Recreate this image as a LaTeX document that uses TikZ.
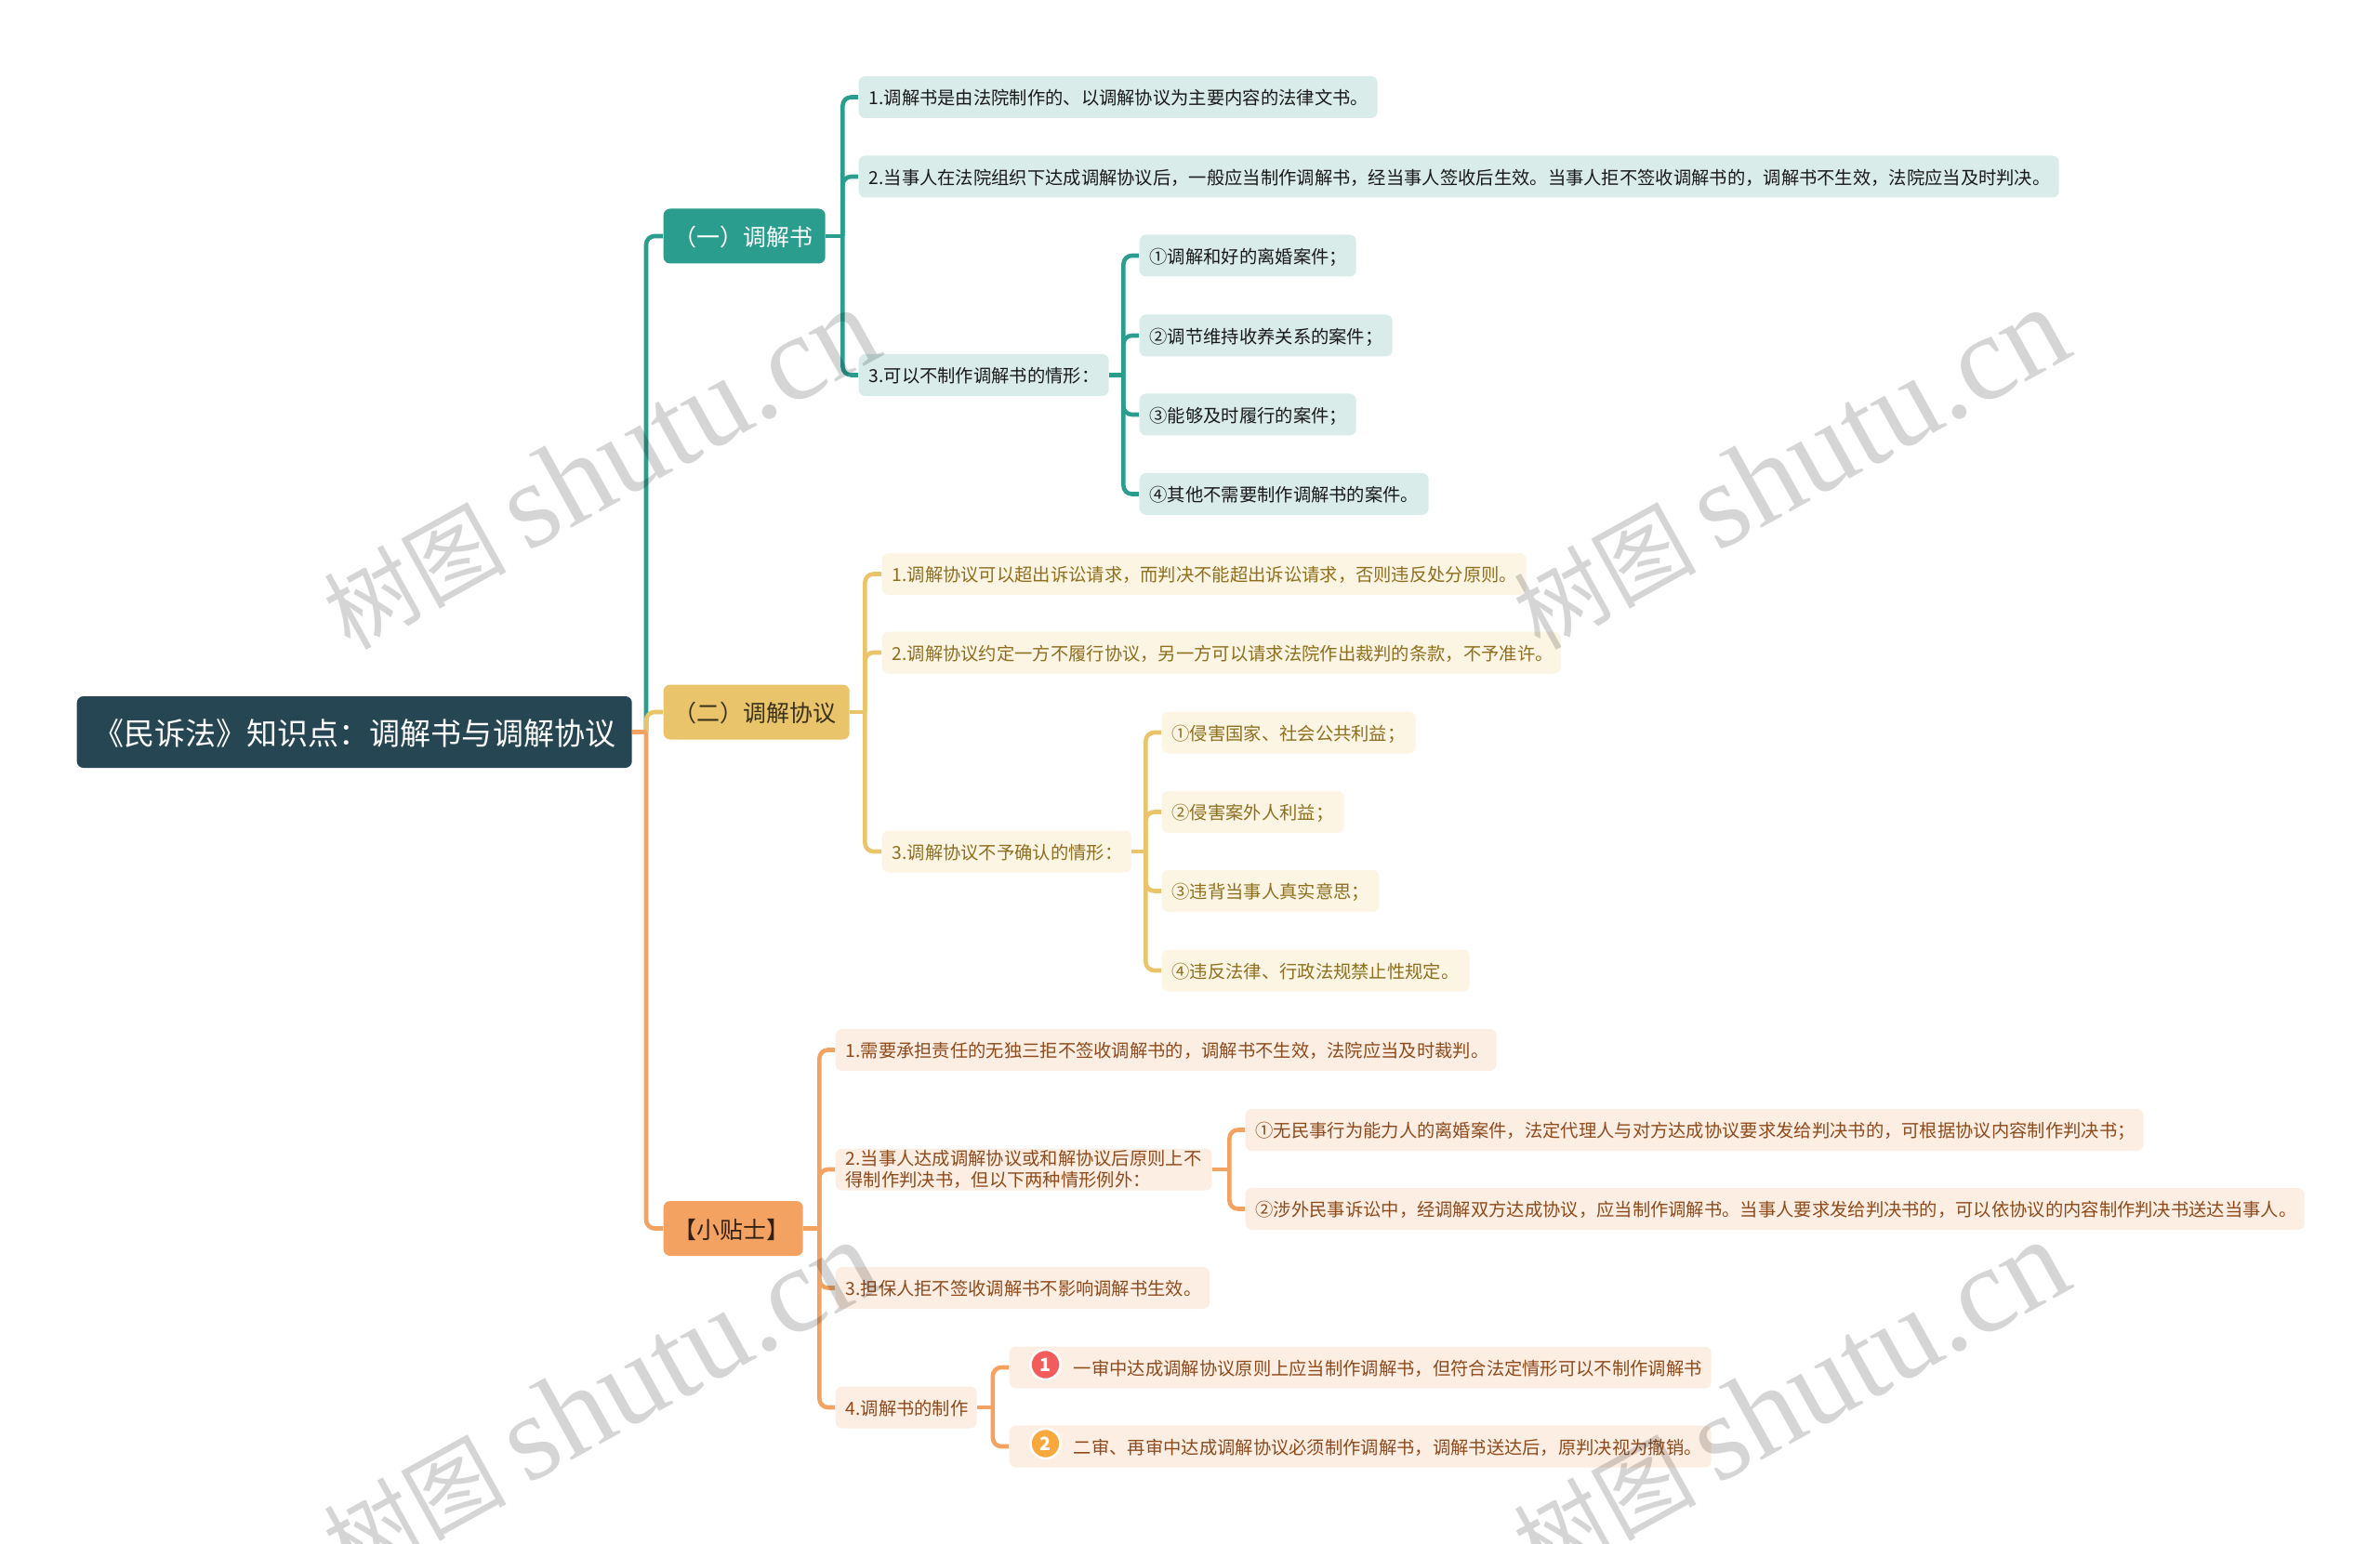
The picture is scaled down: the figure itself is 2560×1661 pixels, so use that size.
\documentclass[tikz,border=0pt]{standalone}
\usepackage{fontspec}
\usepackage{xcolor}
\setmainfont{Noto Sans CJK SC}
\newfontfamily\wmfont{Liberation Serif}
\definecolor{rootcol}{HTML}{264653}
\definecolor{tealcol}{HTML}{2A9D8F}
\definecolor{yelcol}{HTML}{E9C46A}
\definecolor{orgcol}{HTML}{F4A261}
\definecolor{tealbg}{HTML}{D9ECEA}
\definecolor{yelbg}{HTML}{FCF5E4}
\definecolor{orgbg}{HTML}{FDEEE3}
\definecolor{yeltxt}{HTML}{8F6F1E}
\definecolor{orgtxt}{HTML}{8F4A1C}
\definecolor{iconred}{HTML}{F25C5C}
\definecolor{iconorg}{HTML}{F9A83E}

\begin{document}
\begin{tikzpicture}[x=0.01cm,y=-0.01cm,
    rootbox/.style={anchor=west,fill=rootcol,text=white,rounded corners=2pt,inner xsep=5pt,inner ysep=0pt,
        minimum height=77*0.01cm,font=\fontsize{9.4}{11}\selectfont,execute at begin node={\vspace*{-0.9pt}}},
    branchbox/.style={anchor=west,rounded corners=2pt,inner xsep=3pt,inner ysep=0pt,
        minimum height=59*0.01cm,font=\fontsize{7.1}{9}\selectfont,execute at begin node={\vspace*{-0.9pt}}},
    itembox/.style={anchor=west,rounded corners=2pt,inner xsep=3.1pt,inner ysep=0pt,align=left,
        minimum height=45*0.01cm,font=\fontsize{5.49}{7.4}\selectfont,execute at begin node={\vspace*{-0.9pt}}},
    lnkteal/.style={draw=tealcol,line width=1.3pt},
    lnkyel/.style={draw=yelcol,line width=1.3pt},
    lnkorg/.style={draw=orgcol,line width=1.3pt},
    iconbox/.style={circle,draw=white,line width=0.7pt,inner sep=0pt,minimum size=32*0.01cm,text=white,
        font=\fontsize{5.6}{6}\selectfont\bfseries},
    wmtext/.style={rotate=29,text=black,text opacity=0.165,font=\fontsize{27.9}{36}\selectfont}]
    \useasboundingbox (0,0) rectangle (2560,1661);

    \node[rootbox,text width=597*0.01cm-10pt] (root) at (82,787.5) {《民诉法》知识点：调解书与调解协议};
    \node[branchbox,fill=tealcol,text=white,text width=174*0.01cm-6pt] (bA) at (713,254) {（一）调解书};
    \node[branchbox,fill=yelcol,text=black!75!yelcol,text width=200*0.01cm-6pt] (bB) at (713,766) {（二）调解协议};
    \node[branchbox,fill=orgcol,text=black!80!orgcol,text width=150*0.01cm-6pt] (bC) at (713,1321.5) {【小贴士】};

    \foreach \n/\x/\y/\w/\txt in {
        a1/923/104.5/558/1.调解书是由法院制作的、以调解协议为主要内容的法律文书。,
        a2/923/190/1291/2.当事人在法院组织下达成调解协议后，一般应当制作调解书，经当事人签收后生效。当事人拒不签收调解书的，调解书不生效，法院应当及时判决。,
        a3/923/403.5/269/3.可以不制作调解书的情形：,
        a31/1225/275/233/①调解和好的离婚案件；,
        a32/1225/361/272/②调节维持收养关系的案件；,
        a33/1225/446/233/③能够及时履行的案件；,
        a34/1225/531.5/311/④其他不需要制作调解书的案件。}
        \node[itembox,fill=tealbg,text=black!90,text width=\w*0.01cm-6.2pt] (\n) at (\x,\y) {\txt};

    \foreach \n/\x/\y/\w/\txt in {
        b1/948/617.5/693/1.调解协议可以超出诉讼请求，而判决不能超出诉讼请求，否则违反处分原则。,
        b2/948/702/730/2.调解协议约定一方不履行协议，另一方可以请求法院作出裁判的条款，不予准许。,
        b3/948/916/268/3.调解协议不予确认的情形：,
        b31/1249/788/273/①侵害国家、社会公共利益；,
        b32/1249/873.5/196/②侵害案外人利益；,
        b33/1249/958.5/234/③违背当事人真实意思；,
        b34/1249/1044/331/④违反法律、行政法规禁止性规定。}
        \node[itembox,fill=yelbg,text=yeltxt,text width=\w*0.01cm-6.2pt] (\n) at (\x,\y) {\txt};

    \foreach \n/\x/\y/\w/\txt in {
        c1/898/1129.5/711/1.需要承担责任的无独三拒不签收调解书的，调解书不生效，法院应当及时裁判。,
        c2/898/1258/405/{2.当事人达成调解协议或和解协议后原则上不\\得制作判决书，但以下两种情形例外：},
        c21/1339/1215.5/966/①无民事行为能力人的离婚案件，法定代理人与对方达成协议要求发给判决书的，可根据协议内容制作判决书；,
        c22/1339/1300.5/1139/②涉外民事诉讼中，经调解双方达成协议，应当制作调解书。当事人要求发给判决书的，可以依协议的内容制作判决书送达当事人。,
        c3/898/1385.5/402.5/3.担保人拒不签收调解书不影响调解书生效。,
        c4/898/1514/152/4.调解书的制作,
        c41/1085/1471/755/\hspace*{16.6pt}一审中达成调解协议原则上应当制作调解书，但符合法定情形可以不制作调解书,
        c42/1085/1556/755/\hspace*{16.6pt}二审、再审中达成调解协议必须制作调解书，调解书送达后，原判决视为撤销。}
        \node[itembox,fill=orgbg,text=orgtxt,text width=\w*0.01cm-6.2pt] (\n) at (\x,\y) {\txt};

    \node[iconbox,fill=iconred] (icA) at (1124.5,1468) {1};
    \node[iconbox,fill=iconorg] (icB) at (1124.5,1553) {2};

    \foreach \p/\d/\lnk/\kids in {bA/18/lnkteal/{a1,a2,a3},a3/15/lnkteal/{a31,a32,a33,a34},
        bB/16/lnkyel/{b1,b2,b3},b3/15/lnkyel/{b31,b32,b33,b34},
        bC/17/lnkorg/{c1,c2,c3,c4},c2/18/lnkorg/{c21,c22},c4/16.5/lnkorg/{c41,c42}} {
        \draw[\lnk] (\p.east) -- ++(\d,0) coordinate (\p j);
        \foreach \k in \kids
            \draw[\lnk,rounded corners=2.6pt] (\p j) |- (\k.west);
    }

    \coordinate (rootj) at (695,787.5);
    \foreach \k/\lnk in {bA/lnkteal,bB/lnkyel,bC/lnkorg}
        \draw[\lnk,rounded corners=2.6pt] (rootj) |- (\k.west);
    \draw[lnkorg] (root.east) -- (rootj);

    \foreach \x/\y/\nm in {645/504/wmA,1925/504/wmB,645/1507/wmC,1925/1507/wmD}
        \node[wmtext] (\nm) at (\x,\y) {树图 {\wmfont\fontsize{37.3}{40}\selectfont shutu.cn}};
\end{tikzpicture}
\end{document}
